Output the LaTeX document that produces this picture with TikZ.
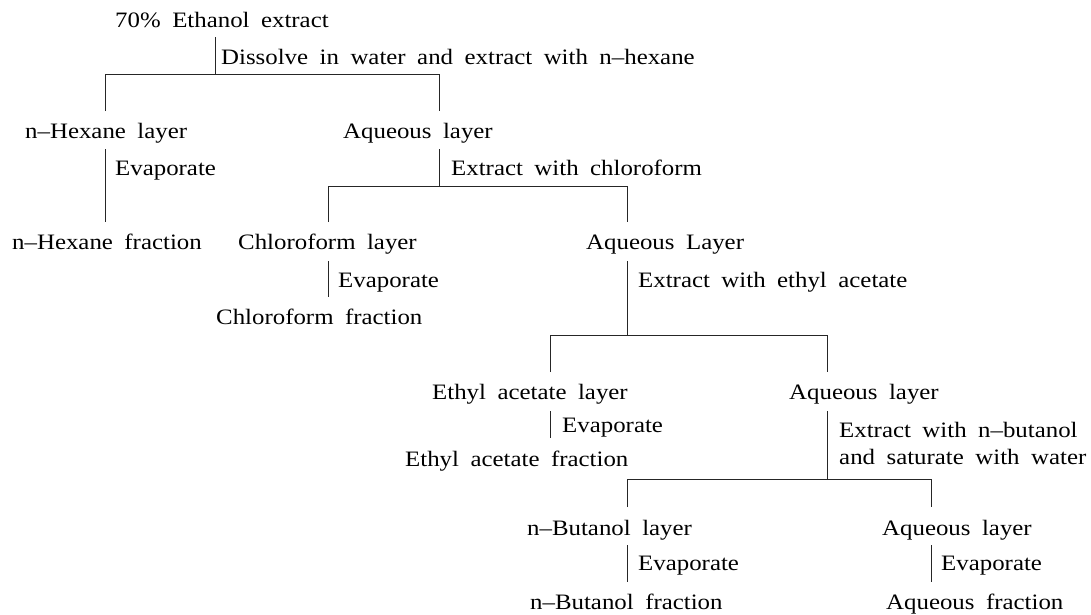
\documentclass[tikz,border=0pt]{standalone}
\usepackage{fontspec}
\setmainfont{Liberation Serif}[FakeStretch=1.13, WordSpace=1.85]
\begin{document}
\begin{tikzpicture}[x=1pt, y=-1pt,
  lbl/.style={inner sep=0pt, anchor=base west, font=\fontsize{22}{27}\selectfont},
  conn/.style={draw=black!85, line width=0.9pt}]
\useasboundingbox (0,0) rectangle (1091,614);
% texts
\node[lbl] (eth)   at (115,27)  {70\% Ethanol extract};
\node[lbl] (s1)    at (221,64)  {Dissolve in water and extract with n–hexane};
\node[lbl] (hexl)  at (25,138)  {n–Hexane layer};
\node[lbl] (aq1)   at (343,138) {Aqueous layer};
\node[lbl] (ev1)   at (115,175) {Evaporate};
\node[lbl] (s2)    at (451,175) {Extract with chloroform};
\node[lbl] (hexf)  at (12,249)  {n–Hexane fraction};
\node[lbl] (chll)  at (238,249) {Chloroform layer};
\node[lbl] (aq2)   at (586,249) {Aqueous Layer};
\node[lbl] (ev2)   at (338,287) {Evaporate};
\node[lbl] (s3)    at (638,287) {Extract with ethyl acetate};
\node[lbl] (chlf)  at (216,324) {Chloroform fraction};
\node[lbl] (etal)  at (432,399) {Ethyl acetate layer};
\node[lbl] (aq3)   at (789,399) {Aqueous layer};
\node[lbl] (ev3)   at (562,432) {Evaporate};
\node[lbl, align=left] (s4) at (839,464) {Extract with n–butanol\\and saturate with water};
\node[lbl] (etaf)  at (405,466) {Ethyl acetate fraction};
\node[lbl] (butl)  at (527,535) {n–Butanol layer};
\node[lbl] (aq4)   at (882,535) {Aqueous layer};
\node[lbl] (ev4)   at (638,570) {Evaporate};
\node[lbl] (ev5)   at (941,570) {Evaporate};
\node[lbl] (butf)  at (530,609) {n–Butanol fraction};
\node[lbl] (aqf)   at (886,609) {Aqueous fraction};
% junction coordinates
\coordinate (e0) at (215,37);   \coordinate (e1) at (215,74);
\coordinate (h1l) at (105,74);  \coordinate (h1r) at (439,74);
\coordinate (d1l) at (105,111); \coordinate (d1r) at (439,111);
\coordinate (x0) at (105,149);  \coordinate (x1) at (105,222);
\coordinate (a0) at (439,149);  \coordinate (a1) at (439,186);
\coordinate (h2l) at (328,186); \coordinate (h2r) at (627,186);
\coordinate (d2l) at (328,222); \coordinate (d2r) at (627,222);
\coordinate (c0) at (328,261);  \coordinate (c1) at (328,297);
\coordinate (b0) at (627,261);  \coordinate (b1) at (627,335);
\coordinate (h3l) at (550,335); \coordinate (h3r) at (827,335);
\coordinate (d3l) at (550,372); \coordinate (d3r) at (827,372);
\coordinate (t0) at (550,411);  \coordinate (t1) at (550,438);
\coordinate (q0) at (827,411);  \coordinate (q1) at (827,479);
\coordinate (h4l) at (627,479); \coordinate (h4r) at (931,479);
\coordinate (d4l) at (627,507); \coordinate (d4r) at (931,507);
\coordinate (u0) at (627,545);  \coordinate (u1) at (627,582);
\coordinate (w0) at (931,545);  \coordinate (w1) at (931,582);
% connectors
\draw[conn] (e0) -- (e1);
\draw[conn] (d1l) -- (h1l) -- (h1r) -- (d1r);
\draw[conn] (x0) -- (x1);
\draw[conn] (a0) -- (a1);
\draw[conn] (d2l) -- (h2l) -- (h2r) -- (d2r);
\draw[conn] (c0) -- (c1);
\draw[conn] (b0) -- (b1);
\draw[conn] (d3l) -- (h3l) -- (h3r) -- (d3r);
\draw[conn] (t0) -- (t1);
\draw[conn] (q0) -- (q1);
\draw[conn] (d4l) -- (h4l) -- (h4r) -- (d4r);
\draw[conn] (u0) -- (u1);
\draw[conn] (w0) -- (w1);
\end{tikzpicture}
\end{document}
